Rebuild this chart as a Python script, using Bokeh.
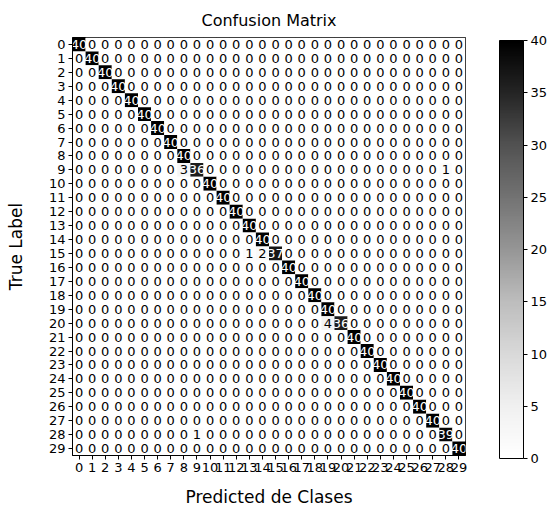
import numpy as np
from bokeh.plotting import figure
from bokeh.models import (ColumnDataSource, LinearColorMapper, ColorBar, FixedTicker,
                          Range1d)
from bokeh.palettes import Greys9
from bokeh.core.properties import value
from bokeh.embed import file_html
from bokeh.resources import INLINE

# ---- data ----
classes = list(range(30))
diag_counts = [40, 40, 40, 40, 40, 40, 40, 40, 40, 36,
               40, 40, 40, 40, 40, 37, 40, 40, 40, 40,
               36, 40, 40, 40, 40, 40, 40, 40, 39, 40]
# off-diagonal entries: (true, predicted, count)
off_true = [9, 9, 15, 15, 20, 28]
off_pred = [8, 28, 13, 14, 19, 9]
off_count = [3, 1, 1, 2, 4, 1]
colorbar_ticks = [0, 5, 10, 15, 20, 25, 30, 35, 40]

n = len(classes)
cm = np.zeros((n, n), dtype=int)
for i, c in enumerate(diag_counts):
    cm[i, i] = c
for t, pr, c in zip(off_true, off_pred, off_count):
    cm[t, pr] = c

vmax = int(cm.max())
xs, ys, vals, txt, tcol = [], [], [], [], []
for t in range(n):
    for pr in range(n):
        v = int(cm[t, pr])
        xs.append(pr)
        ys.append(t)
        vals.append(v)
        txt.append(str(v))
        tcol.append("white" if v > vmax / 2 else "black")
src = ColumnDataSource(dict(x=xs, y=ys, v=vals, t=txt, tc=tcol))

# matplotlib-like "Greys" colormap (white -> black), interpolated from Greys9
anchors = list(reversed(Greys9))
rgb = np.array([[int(h[i:i + 2], 16) for i in (1, 3, 5)] for h in anchors], dtype=float)
pos = np.linspace(0, 1, len(anchors))
grid = np.linspace(0, 1, 256)
palette = []
for g in grid:
    r = np.interp(g, pos, rgb[:, 0]); gg = np.interp(g, pos, rgb[:, 1]); b = np.interp(g, pos, rgb[:, 2])
    palette.append("#%02x%02x%02x" % (int(round(r)), int(round(gg)), int(round(b))))

mapper = LinearColorMapper(palette=palette, low=0, high=40)

FONT = "DejaVu Sans"
FW, FH = 393, 418
p = figure(width=545, height=500, frame_width=FW, frame_height=FH,
           x_range=Range1d(-0.5, n - 0.5), y_range=Range1d(n - 0.5, -0.5),
           output_backend="svg", toolbar_location=None,
           title="Confusion Matrix", min_border_left=72)

p.rect(x="x", y="y", width=1, height=1, source=src,
       fill_color={"field": "v", "transform": mapper}, line_color=None)
p.text(x="x", y="y", text="t", source=src, text_color="tc",
       text_align="center", text_baseline="middle",
       text_font=value(FONT), text_font_size="13px")

p.title.align = "center"
p.title.text_font = FONT
p.title.text_font_size = "16px"
p.title.text_font_style = "normal"
p.title.text_color = "black"
p.title.offset = 0
p.title.standoff = 16

p.xgrid.visible = False
p.ygrid.visible = False
p.outline_line_color = "black"
p.outline_line_width = 1

for ax in (p.xaxis, p.yaxis):
    ax.ticker = FixedTicker(ticks=classes)
    ax.minor_tick_line_color = None
    ax.major_tick_line_color = "black"
    ax.major_tick_out = 4
    ax.major_tick_in = 0
    ax.axis_line_color = "black"
    ax.major_label_text_font = FONT
    ax.major_label_text_font_size = "13px"
    ax.major_label_text_color = "black"
    ax.axis_label_text_font = FONT
    ax.axis_label_text_font_size = "17px"
    ax.axis_label_text_font_style = "normal"
    ax.axis_label_text_color = "black"
    ax.major_label_standoff = 3

p.xaxis.axis_label = "Predicted de Clases"
p.yaxis.axis_label = "True Label"
p.xaxis.axis_label_standoff = 12
p.yaxis.axis_label_standoff = 20

cb = ColorBar(color_mapper=mapper, ticker=FixedTicker(ticks=colorbar_ticks),
              width=24, height=FH, location=(34, -3), margin=0, padding=0,
              bar_line_color="black", major_tick_line_color="black",
              major_tick_out=4, major_tick_in=0, label_standoff=3,
              major_label_text_font=FONT, major_label_text_font_size="13px",
              major_label_text_color="black",
              background_fill_alpha=0, border_line_color=None)
p.add_layout(cb, "right")

open("out.html", "w").write(file_html(p, INLINE))
